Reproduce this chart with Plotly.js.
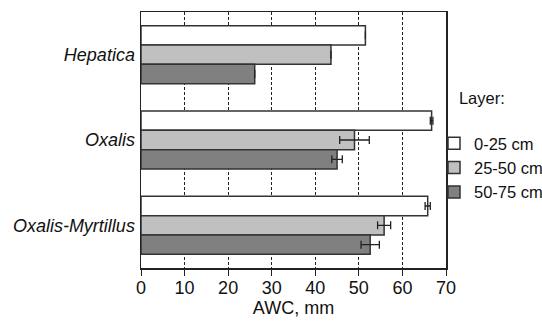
<!DOCTYPE html>
<html><head><meta charset="utf-8">
<script src="https://cdn.plot.ly/plotly-3.0.1.min.js"></script>
<style>body{margin:0;background:#fff}#c{width:542px;height:324px}</style>
</head><body><div id="c"></div>
<script>
const categories = ["Hepatica", "Oxalis", "Oxalis-Myrtillus"];
const layers = ["0-25 cm", "25-50 cm", "50-75 cm"];
const values0_25 = [51.5, 66.7, 65.8];
const values25_50 = [43.6, 49.0, 55.8];
const values50_75 = [26.1, 45.0, 52.6];
const err0_25 = [null, 0.3, 0.6];
const err25_50 = [null, 3.4, 1.5];
const err50_75 = [null, 1.2, 2.1];
const colors = ["#ffffff", "#c0c0c0", "#808080"];
const tickVals = [0, 10, 20, 30, 40, 50, 60, 70];

const series = [values0_25, values25_50, values50_75];
const errs = [err0_25, err25_50, err50_75];
const catLabels = categories.map(c => "<i>" + c + "</i>");
const traces = series.map((v, i) => ({
  type: "bar", orientation: "h", name: layers[i],
  x: v, y: catLabels,
  marker: {color: colors[i], line: {color: "#333", width: 1.5}},
  error_x: {type: "data", array: errs[i], visible: true, color: "#222", thickness: 1.3, width: 4}
}));

const layout = {
  width: 542, height: 324,
  margin: {l: 141, r: 96, t: 12, b: 56, autoexpand: false},
  paper_bgcolor: "#fff", plot_bgcolor: "#fff",
  font: {family: "Liberation Sans, Arial, sans-serif", color: "#111", size: 18},
  barmode: "group", bargap: 0.32, bargroupgap: 0,
  xaxis: {
    range: [0, 70], tickvals: tickVals, ticks: "outside", ticklen: 6, tickcolor: "#222",
    showline: true, linecolor: "#222", linewidth: 1.5, mirror: true,
    showgrid: true, gridcolor: "#222", griddash: "3px,2px", gridwidth: 1,
    zeroline: false, tickfont: {size: 18}, ticklabelstandoff: -3,
    title: {text: "AWC, mm", font: {size: 18}, standoff: 4}
  },
  yaxis: {
    autorange: "reversed", showline: true, linecolor: "#222", linewidth: 1.5, mirror: true,
    ticks: "", tickfont: {size: 18}, ticklabelstandoff: 1
  },
  showlegend: true,
  legend: {
    xref: "container", yref: "container",
    x: 434 / 542, xanchor: "left", y: 1 - 83 / 324, yanchor: "top",
    title: {text: "\u00a0\u00a0\u00a0\u00a0\u00a0Layer:<br>\u00a0", font: {size: 16.5}},
    font: {size: 16.5}, itemwidth: 30, tracegroupgap: 0, bgcolor: "rgba(0,0,0,0)"
  }
};
Plotly.newPlot("c", traces, layout, {displayModeBar: false, staticPlot: true});
</script></body></html>
